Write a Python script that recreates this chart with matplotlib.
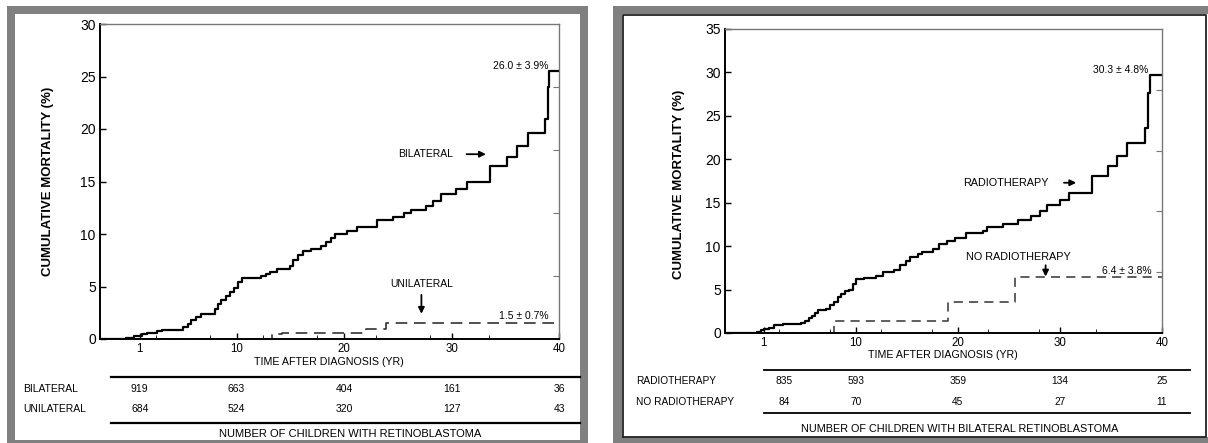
import matplotlib
matplotlib.use("Agg")
import matplotlib.pyplot as plt
from matplotlib.patches import Rectangle
from matplotlib.transforms import blended_transform_factory

plt.rcParams['font.family'] = ['Liberation Sans', 'DejaVu Sans']

# ---- data ----
bil_years = [-0.25, 0.46, 1.2, 1.7, 2.6, 3.1, 5.0, 5.5, 5.8, 6.2, 6.7, 8.0, 8.25, 8.6, 9.0,
             9.4, 9.75, 10.1, 10.5, 12.25, 12.7, 13.1, 13.75, 15.0, 15.3, 15.75, 16.2, 16.9,
             17.9, 18.3, 18.75, 19.2, 20.3, 21.2, 23.1, 24.6, 25.6, 26.2, 27.6, 28.3, 29.0,
             30.4, 31.4, 33.6, 35.2, 36.1, 37.1, 38.7, 39.0, 39.1]
bil_mort = [0.1, 0.3, 0.5, 0.6, 0.75, 0.9, 1.1, 1.4, 1.8, 2.1, 2.4, 2.9, 3.3, 3.7, 4.1,
            4.5, 4.9, 5.4, 5.8, 6.0, 6.2, 6.4, 6.7, 7.0, 7.5, 8.0, 8.4, 8.6,
            8.9, 9.2, 9.6, 10.0, 10.3, 10.7, 11.3, 11.6, 12.0, 12.3, 12.7, 13.1, 13.8,
            14.3, 15.0, 16.5, 17.3, 18.4, 19.6, 21.0, 24.0, 25.5]
uni_years = [13.3, 14.2, 22.0, 23.9]
uni_mort = [0.5, 0.6, 0.95, 1.5]

radio_years = [0.3, 0.7, 1.05, 1.5, 2.0, 2.9, 4.6, 5.0, 5.4, 5.75, 6.0, 6.3, 7.07, 7.5, 7.9,
               8.3, 8.6, 9.0, 9.3, 9.7, 10.05, 10.8, 11.95, 12.7, 13.8, 14.3, 14.96, 15.3,
               16.1, 16.5, 17.6, 18.2, 18.9, 19.7, 20.8, 22.5, 22.9, 24.4, 25.9, 27.2, 28.1,
               28.7, 30.0, 30.9, 33.1, 34.7, 35.6, 36.6, 38.3, 38.6, 38.8]
radio_mort = [0.15, 0.3, 0.45, 0.6, 0.9, 1.0, 1.2, 1.4, 1.7, 1.9, 2.3, 2.7, 2.8, 3.2, 3.6,
              4.1, 4.5, 4.8, 5.0, 5.6, 6.2, 6.3, 6.6, 7.0, 7.3, 7.8, 8.3, 8.8,
              9.1, 9.3, 9.7, 10.2, 10.6, 10.9, 11.5, 11.8, 12.2, 12.6, 13.0, 13.5, 14.1,
              14.7, 15.3, 16.1, 18.1, 19.2, 20.4, 21.9, 23.6, 27.6, 29.7]
noradio_years = [7.9, 19.0, 25.6]
noradio_mort = [1.4, 3.6, 6.4]

xticks = [1, 10, 20, 30, 40]
left_rows = ['BILATERAL', 'UNILATERAL']
left_counts = [[919, 663, 404, 161, 36], [684, 524, 320, 127, 43]]
right_rows = ['RADIOTHERAPY', 'NO RADIOTHERAPY']
right_counts = [[835, 593, 359, 134, 25], [84, 70, 45, 27, 11]]

W, H = 1208, 443
fig = plt.figure(figsize=(W / 100, H / 100), dpi=100)
bg = fig.add_axes([0, 0, 1, 1])
bg.set_xlim(0, W)
bg.set_ylim(H, 0)
bg.axis('off')

GRAY = '#808080'
# frames
bg.add_patch(Rectangle((7, 6), 581, 450, fc=GRAY, ec='none'))
bg.add_patch(Rectangle((15, 14), 565, 426, fc='white', ec='none'))
bg.add_patch(Rectangle((613, 6), 600, 450, fc=GRAY, ec='none'))
bg.add_patch(Rectangle((622, 14), 590, 423, fc='white', ec='none'))
bg.plot([623, 623, 1206, 1206, 623], [437, 15, 15, 437, 437], color='#222222', lw=1.3)


def axes_at(x0, x1, y0, y1):
    return fig.add_axes([x0 / W, 1 - y1 / H, (x1 - x0) / W, (y1 - y0) / H])


def step(ax, xs, ys, x0, x1, **kw):
    ax.plot([x0] + xs + [x1], [0] + ys + [ys[-1]], drawstyle='steps-post', **kw)


def style(ax, xmin, ymax, ystep, rticks):
    ax.set_xlim(xmin, 40)
    ax.set_ylim(0, ymax)
    ax.set_xticks(xticks)
    ax.set_xticks([2.5, 7.5, 12.5, 17.5, 23, 28, 33.5], minor=True)
    ax.set_yticks(range(0, ymax + 1, ystep))
    ax.tick_params(direction='in', length=4, width=1, labelsize=10, pad=3)
    ax.tick_params(axis='x', which='minor', direction='in', length=3)
    ax.tick_params(axis='x', labelsize=8.3)
    for s in ['left', 'bottom']:
        ax.spines[s].set_linewidth(1.4)
    for s in ['top', 'right']:
        ax.spines[s].set_color('#777777')
        ax.spines[s].set_linewidth(1.0)
    sec = ax.secondary_yaxis('right')
    sec.set_yticks(rticks)
    sec.tick_params(direction='in', length=4, labelright=False, color='#777777')
    sec.spines['right'].set_visible(False)
    ax.patch.set_alpha(0)


def arrow(ax, xy_from, xy_to):
    ax.annotate('', xy=xy_to, xytext=xy_from,
                arrowprops=dict(arrowstyle='-|>', color='black', lw=1.3,
                                mutation_scale=9, shrinkA=0, shrinkB=0))


# ---- left panel ----
axL = axes_at(100, 559, 24, 339)
style(axL, -2.7, 30, 5, [6, 12, 18, 24])
step(axL, bil_years, bil_mort, -2.7, 40, color='black', lw=1.6)
step(axL, uni_years, uni_mort, -2.7, 40, color='#333333', lw=1.2, dashes=(7, 4))
axL.text(39.0, 25.5, '26.0 ± 3.9%', ha='right', va='bottom', fontsize=7.5)
axL.text(30.1, 17.6, 'BILATERAL', ha='right', va='center', fontsize=7.5)
arrow(axL, (31.4, 17.6), (33.2, 17.6))
axL.text(27.2, 5.2, 'UNILATERAL', ha='center', va='center', fontsize=7.5)
arrow(axL, (27.2, 4.2), (27.2, 2.4))
axL.text(39.0, 1.75, '1.5 ± 0.7%', ha='right', va='bottom', fontsize=7.5)

bg.text(48, 181, 'CUMULATIVE MORTALITY (%)', rotation=90, ha='center', va='center',
        fontsize=9.5, fontweight='bold')
bg.text(329, 362, 'TIME AFTER DIAGNOSIS (YR)', ha='center', va='center', fontsize=7.7)
bg.plot([111, 580], [377, 377], color='black', lw=1.6)
bg.plot([111, 580], [423, 423], color='black', lw=1.6)
tL = blended_transform_factory(axL.transData, bg.transData)
for label, counts, y in zip(left_rows, left_counts, [389, 409]):
    bg.text(23, y, label, ha='left', va='center', fontsize=7.5)
    for xv, c in zip(xticks, counts):
        bg.text(xv, y, str(c), transform=tL, ha='center', va='center', fontsize=7.5)
bg.text(350, 434, 'NUMBER OF CHILDREN WITH RETINOBLASTOMA', ha='center', va='center',
        fontsize=8)

# ---- right panel ----
axR = axes_at(725, 1162, 29, 333)
style(axR, -2.8, 35, 5, [7, 14, 21, 28])
step(axR, radio_years, radio_mort, -2.8, 40, color='black', lw=1.6)
step(axR, noradio_years, noradio_mort, -2.8, 40, color='#333333', lw=1.1, dashes=(6, 4))
axR.text(38.7, 29.7, '30.3 ± 4.8%', ha='right', va='bottom', fontsize=7.5)
axR.text(28.9, 17.3, 'RADIOTHERAPY', ha='right', va='center', fontsize=7.8)
arrow(axR, (30.4, 17.3), (31.6, 17.3))
axR.text(25.9, 8.75, 'NO RADIOTHERAPY', ha='center', va='center', fontsize=7.8)
arrow(axR, (28.6, 7.8), (28.6, 6.5))
axR.text(39.0, 6.6, '6.4 ± 3.8%', ha='right', va='bottom', fontsize=7.5)

bg.text(679, 184, 'CUMULATIVE MORTALITY (%)', rotation=90, ha='center', va='center',
        fontsize=9.5, fontweight='bold')
bg.text(943, 355, 'TIME AFTER DIAGNOSIS (YR)', ha='center', va='center', fontsize=7.7)
bg.plot([764, 1190], [370, 370], color='black', lw=1.3)
bg.plot([764, 1190], [413, 413], color='black', lw=1.3)
tR = blended_transform_factory(axR.transData, bg.transData)
right_cols = [3, 10, 20, 30, 40]
for label, counts, y in zip(right_rows, right_counts, [381, 402]):
    bg.text(636, y, label, ha='left', va='center', fontsize=7.3)
    for xv, c in zip(right_cols, counts):
        bg.text(xv, y, str(c), transform=tR, ha='center', va='center', fontsize=7.3)
bg.text(960, 429, 'NUMBER OF CHILDREN WITH BILATERAL RETINOBLASTOMA', ha='center',
        va='center', fontsize=7.8)

fig.savefig('out.png', dpi=100)
